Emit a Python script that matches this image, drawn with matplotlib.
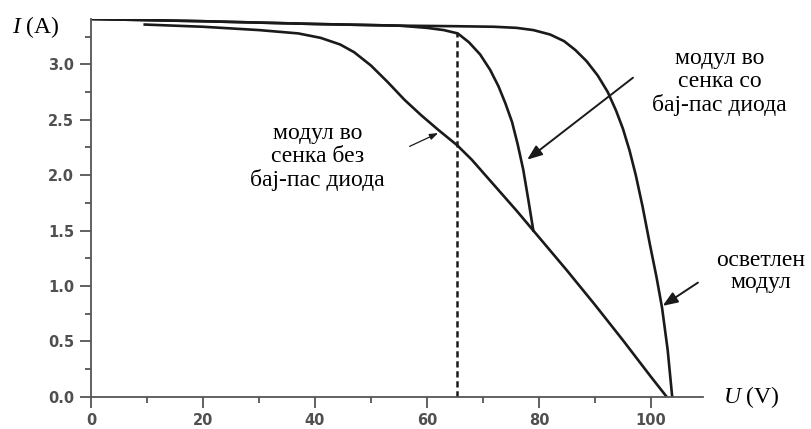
import matplotlib
matplotlib.use('Agg')
import matplotlib.pyplot as plt

# I-U curves (U in V, I in A)
u_lit = [0, 20, 40, 55, 65, 72, 76, 79, 82, 84.5, 86.5, 88.5, 90.5, 92.3, 93.8,
         95, 96.2, 97.3, 98.5, 99.8, 101, 102, 103, 103.8]
i_lit = [3.41, 3.39, 3.365, 3.35, 3.345, 3.34, 3.33, 3.31, 3.27, 3.21, 3.13, 3.03,
         2.90, 2.75, 2.58, 2.42, 2.22, 2.00, 1.72, 1.38, 1.08, 0.80, 0.42, 0.0]

u_bypass = [0, 20, 40, 50, 55, 60, 63, 65.5, 67.5, 69.5, 71.3, 72.8, 74, 75.2,
            76.2, 77.2, 78.1, 79]
i_bypass = [3.41, 3.39, 3.365, 3.355, 3.35, 3.33, 3.31, 3.28, 3.20, 3.09, 2.95,
            2.80, 2.65, 2.48, 2.28, 2.05, 1.78, 1.50]

u_nobypass = [9.6, 20, 30, 37, 41, 44.5, 47, 50, 53, 56, 59, 62, 65.4, 68, 72,
              76, 79, 85, 90, 95, 100, 102.8]
i_nobypass = [3.36, 3.34, 3.31, 3.28, 3.24, 3.18, 3.11, 2.99, 2.84, 2.68, 2.54,
              2.41, 2.27, 2.14, 1.91, 1.68, 1.50, 1.14, 0.83, 0.51, 0.18, 0.0]

u_mpp = 65.4
i_mpp = 3.28

x_ticks = [0, 20, 40, 60, 80, 100]
y_ticks = [0.0, 0.5, 1.0, 1.5, 2.0, 2.5, 3.0]

lbl_bypass = 'модул во\nсенка со\nбај-пас диода'
lbl_nobypass = 'модул во\nсенка без\nбај-пас диода'
lbl_lit = 'осветлен\nмодул'

plt.rcParams['mathtext.fontset'] = 'custom'
plt.rcParams['mathtext.it'] = 'Liberation Serif:italic'
plt.rcParams['mathtext.rm'] = 'Liberation Serif'

ink = '#1a1a1a'
axis_col = '#555555'
serif = 'Liberation Serif'

fig = plt.figure(figsize=(8.11, 4.29), dpi=100)
ax = fig.add_axes([0.1122, 0.0753, 0.7546, 0.8804])

ax.plot(u_lit, i_lit, color=ink, lw=1.9)
ax.plot(u_bypass, i_bypass, color=ink, lw=1.9)
ax.plot(u_nobypass, i_nobypass, color=ink, lw=1.9)
ax.plot([u_mpp, u_mpp], [0, i_mpp], color=ink, lw=1.8, ls=(0, (2.5, 1.5)))

ax.set_xlim(0, 109.3)
ax.set_ylim(0, 3.41)
for s in ['top', 'right']:
    ax.spines[s].set_visible(False)
for s in ['left', 'bottom']:
    ax.spines[s].set_color(axis_col)
    ax.spines[s].set_linewidth(1.3)

ax.set_xticks(x_ticks)
ax.set_xticks(range(10, 110, 20), minor=True)
ax.set_yticks(y_ticks)
ax.set_yticks([0.25, 0.75, 1.25, 1.75, 2.25, 2.75, 3.25], minor=True)
ax.set_yticklabels(['%.1f' % v for v in y_ticks])
ax.tick_params(which='major', length=8, width=1.3, color=axis_col, pad=4,
               labelsize=10.5, labelcolor='#505050')
ax.tick_params(which='minor', length=4.5, width=1.3, color=axis_col)
for t in ax.get_xticklabels() + ax.get_yticklabels():
    t.set_family('DejaVu Sans')
    t.set_fontweight('bold')

ax.text(-9.8, 3.34, r'$I\ $(A)', family=serif, fontsize=17, ha='center',
        va='center', clip_on=False)
ax.text(118.0, 0.0, r'$U\ $(V)', family=serif, fontsize=17, ha='center',
        va='center', clip_on=False)

ax.text(112.3, 2.84, lbl_bypass, family=serif, fontsize=17, ha='center',
        va='center', linespacing=1.12)
ax.text(40.4, 2.16, lbl_nobypass, family=serif, fontsize=17, ha='center',
        va='center', linespacing=1.12)
ax.text(119.6, 1.13, lbl_lit, family=serif, fontsize=17, ha='center',
        va='center', linespacing=1.12)

big_head = dict(arrowstyle='-|>,head_length=0.9,head_width=0.35', color=ink,
                lw=1.4, shrinkA=0, shrinkB=0)
ax.annotate('', xy=(77.9, 2.14), xytext=(96.8, 2.88), arrowprops=big_head)
ax.annotate('', xy=(102.1, 0.82), xytext=(108.4, 1.03), arrowprops=big_head)
ax.annotate('', xy=(62.0, 2.38), xytext=(56.9, 2.26),
            arrowprops=dict(arrowstyle='-|>,head_length=0.5,head_width=0.18',
                            color=ink, lw=0.9, shrinkA=0, shrinkB=0))

fig.savefig('out.png', dpi=100)
